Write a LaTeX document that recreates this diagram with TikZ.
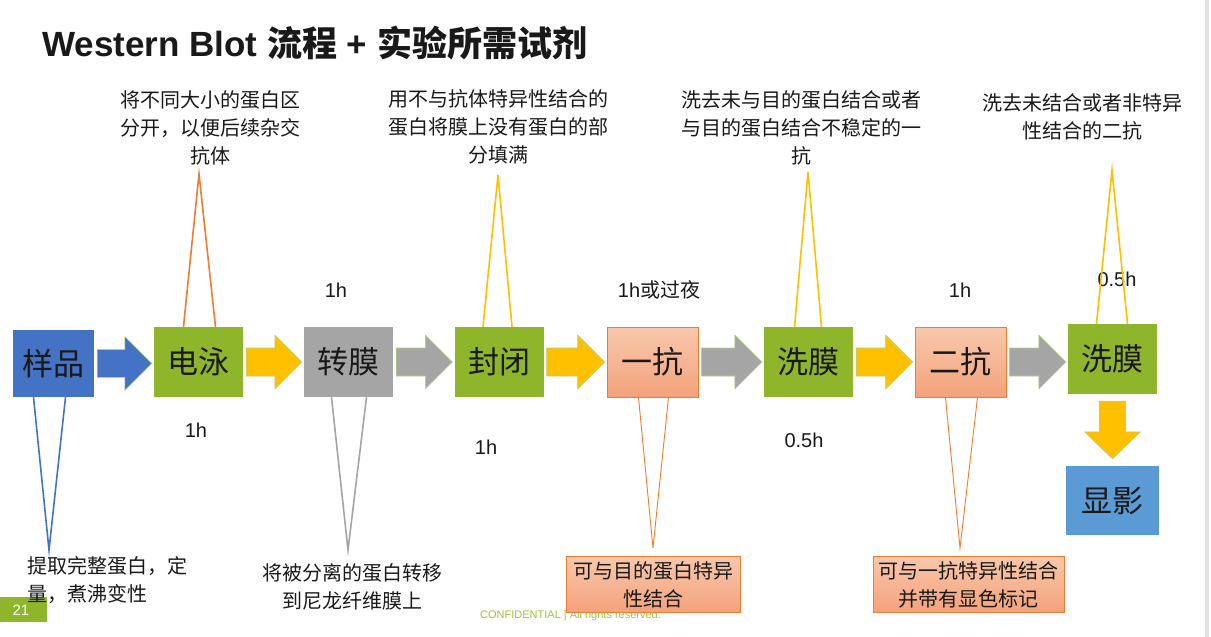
\documentclass[tikz,border=0pt]{standalone}
\usepackage{fontspec}
\setmainfont{Liberation Sans}
\newfontfamily\cjk{Noto Sans CJK SC}
\usetikzlibrary{calc}
\definecolor{sblue}{HTML}{4472C4}
\definecolor{lblue}{HTML}{5B9BD5}
\definecolor{sgreen}{HTML}{8FB52B}
\definecolor{sgray}{HTML}{A5A5A5}
\definecolor{syellow}{HTML}{FFC000}
\definecolor{sorange}{HTML}{ED7D31}
\definecolor{salmonT}{HTML}{F8C8AC}
\definecolor{salmonB}{HTML}{F4A27C}
\definecolor{aedge}{HTML}{B4D27E}
\definecolor{confgreen}{HTML}{9BC53D}
\newcommand\blkarrow[3]{%
  \filldraw[#3, draw=aedge, line width=0.6pt] let \p1=(#1.east), \p2=(#2.west) in
   (\x1+3pt,\y1+14pt) -- (\x2-29pt,\y1+14pt) -- (\x2-29pt,\y1+27pt) -- (\x2-2pt,\y1)
   -- (\x2-29pt,\y1-27pt) -- (\x2-29pt,\y1-14pt) -- (\x1+3pt,\y1-14pt) -- cycle;}
\begin{document}
\begin{tikzpicture}[x=1pt,y=-1pt,
 stepbox/.style={minimum width=89pt, minimum height=70pt, inner sep=0pt,
   font=\cjk\fontsize{31}{33}\selectfont, text=black!90},
 greenbox/.style={stepbox, fill=sgreen},
 salbox/.style={stepbox, top color=salmonT, bottom color=salmonB, draw=sorange, line width=0.8pt, minimum width=91pt},
 note/.style={font=\cjk\fontsize{20}{28}\selectfont, align=center, inner sep=0pt, text=black!90},
 timelbl/.style={font=\fontsize{20}{24}\selectfont, inner sep=0pt, text=black!90},
 leg/.style={line width=1.6pt},
]
\useasboundingbox (0,0) rectangle (1211,637);
\fill[white] (0,0) rectangle (1211,637);
\fill[gray!22] (1205,0) rectangle (1209,637);

% title
\node[anchor=base west, inner sep=0pt, font=\bfseries\fontsize{35}{40}\selectfont, text=black!90] (title) at (42,56)
  {Western Blot {\cjk\bfseries 流程} + {\cjk\bfseries 实验所需试剂}};

% step boxes
\node[stepbox, fill=sblue, minimum width=81pt, minimum height=67pt] (s1) at (53.5,363.5) {样品};
\node[greenbox] (s2) at (198.5,362) {电泳};
\node[stepbox, fill=sgray] (s3) at (348.5,362) {转膜};
\node[greenbox] (s4) at (499,362) {封闭};
\node[salbox] (s5) at (652.5,362) {一抗};
\node[greenbox] (s6) at (808.5,362) {洗膜};
\node[salbox] (s7) at (960.5,362) {二抗};
\node[greenbox] (s8) at (1112.5,359) {洗膜};
\node[stepbox, fill=lblue, minimum width=93pt, minimum height=69pt] (s9) at (1112.5,500.5) {显影};

% block arrows
\blkarrow{s1}{s2}{sblue}
\blkarrow{s2}{s3}{syellow}
\blkarrow{s3}{s4}{sgray}
\blkarrow{s4}{s5}{syellow}
\blkarrow{s5}{s6}{sgray}
\blkarrow{s6}{s7}{syellow}
\blkarrow{s7}{s8}{sgray}
\filldraw[syellow, draw=aedge, line width=0.6pt] let \p1=(s8.south), \p2=(s9.north) in
   (\x1-13pt,\y1-7pt) -- (\x1+13pt,\y1-7pt) -- (\x1+13pt,\y2+34pt) -- (\x1+28pt,\y2+34pt)
   -- (\x1,\y2+7pt) -- (\x1-28pt,\y2+34pt) -- (\x1-13pt,\y2+34pt) -- cycle;

% time labels
\node[timelbl] (t1) at (336,290) {1h};
\node[timelbl] (t2) at (659,290) {1h{\cjk 或过夜}};
\node[timelbl] (t3) at (960,290) {1h};
\node[timelbl] (t4) at (1117,279) {0.5h};
\node[timelbl] (t5) at (196,430) {1h};
\node[timelbl] (t6) at (486,447) {1h};
\node[timelbl] (t7) at (804,440) {0.5h};

% top callouts
\node[note] (n2) at (210,128) {将不同大小的蛋白区\\分开，以便后续杂交\\抗体};
\coordinate (a2) at (199,174);
\draw[leg, sorange] ($(s2.north)+(-15,0)$) -- (a2) -- ($(s2.north)+(17,0)$);

\node[note] (n4) at (498,127) {用不与抗体特异性结合的\\蛋白将膜上没有蛋白的部\\分填满};
\coordinate (a4) at (498,175);
\draw[leg, syellow] ($(s4.north)+(-16,0)$) -- (a4) -- ($(s4.north)+(13,0)$);

\node[note] (n6) at (801,128) {洗去未与目的蛋白结合或者\\与目的蛋白结合不稳定的一\\抗};
\coordinate (a6) at (808,172);
\draw[leg, syellow] ($(s6.north)+(-14,0)$) -- (a6) -- ($(s6.north)+(13,0)$);

\node[note] (n8) at (1082,117) {洗去未结合或者非特异\\性结合的二抗};
\coordinate (a8) at (1112,170);
\draw[leg, syellow] ($(s8.north)+(-16,0)$) -- (a8) -- ($(s8.north)+(15,0)$);

% confidential + page badge
\node[anchor=base west, inner sep=0pt, font=\fontsize{11}{12}\selectfont, text=confgreen] (conf) at (480,618)
  {CONFIDENTIAL | All rights reserved.};
\fill[sgreen] (0,597) rectangle (47,622);
\node[font=\fontsize{15}{16}\selectfont, text=white, inner sep=0pt] (pg) at (21,610) {21};

% bottom callouts
\node[note, align=left, anchor=west] (n1) at (27,580) {提取完整蛋白，定\\量，煮沸变性};
\coordinate (a1) at (49,550);
\draw[leg, sblue] ($(s1.south)+(-20,0)$) -- (a1) -- ($(s1.south)+(12,0)$);

\node[note] (n3) at (352,587) {将被分离的蛋白转移\\到尼龙纤维膜上};
\coordinate (a3) at (348,550);
\draw[leg, sgray] ($(s3.south)+(-17,0)$) -- (a3) -- ($(s3.south)+(18,0)$);

\node[note, top color=salmonT, bottom color=salmonB, draw=sorange, line width=0.8pt,
  minimum width=174pt, minimum height=56pt, text depth=-4pt] (n5) at (653,584) {可与目的蛋白特异\\性结合};
\coordinate (a5) at (653,548);
\draw[line width=0.9pt, sorange] ($(s5.south)+(-14,0)$) -- (a5) -- ($(s5.south)+(16,0)$);

\node[note, top color=salmonT, bottom color=salmonB, draw=sorange, line width=0.8pt,
  minimum width=191pt, minimum height=56pt, text depth=-4pt] (n7) at (968.5,584) {可与一抗特异性结合\\并带有显色标记};
\coordinate (a7) at (960,548);
\draw[line width=0.9pt, sorange] ($(s7.south)+(-15,0)$) -- (a7) -- ($(s7.south)+(17,0)$);
\end{tikzpicture}
\end{document}
